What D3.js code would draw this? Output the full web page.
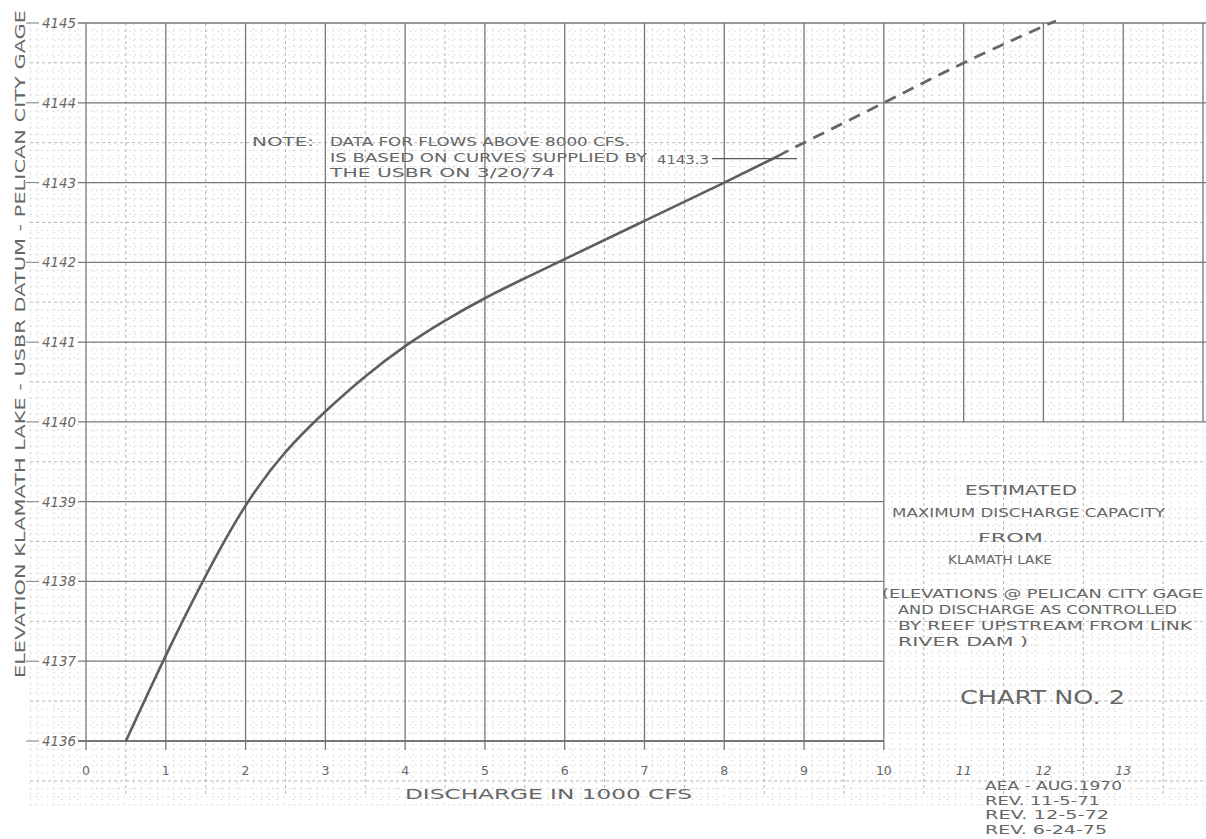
<!DOCTYPE html>
<html>
<head>
<meta charset="utf-8">
<script src="https://cdn.jsdelivr.net/npm/d3@7"></script>
<style>
  html, body { margin: 0; padding: 0; background: #ffffff; }
  svg { display: block; }
  text { font-family: "DejaVu Sans", "Liberation Sans", sans-serif; fill: #666; }
</style>
</head>
<body>
<svg id="chart" width="1206" height="839"></svg>
<script>
// ---------------- data ----------------
const xTickValues = [0, 1, 2, 3, 4, 5, 6, 7, 8, 9, 10, 11, 12, 13];
const yTickValues = [4136, 4137, 4138, 4139, 4140, 4141, 4142, 4143, 4144, 4145];

// measured curve (solid part, data up to ~8000 cfs)
const solidDischarge = [0.5, 1.0, 1.5, 2.0, 2.5, 3.0, 3.5, 4.0, 4.5, 5.0, 5.5, 6.0, 7.0, 8.0, 8.67];
const solidElevation = [4136.0, 4137.07, 4138.07, 4138.95, 4139.62, 4140.13, 4140.57, 4140.95, 4141.27, 4141.55, 4141.8, 4142.04, 4142.52, 4143.0, 4143.33];

// extrapolated curve (dashed part, USBR curves)
const dashedDischarge = [8.67, 9.0, 10.0, 11.0, 12.0, 12.1];
const dashedElevation = [4143.33, 4143.5, 4144.0, 4144.5, 4144.96, 4145.0];

const noteValue = 4143.3;

const yTitle = "ELEVATION   KLAMATH LAKE - USBR DATUM - PELICAN CITY GAGE";
const xTitle = "DISCHARGE IN 1000 CFS";
const noteLines = ["DATA FOR FLOWS ABOVE 8000 CFS.", "IS BASED ON CURVES SUPPLIED BY", "THE USBR  ON 3/20/74"];
const titleLines = ["ESTIMATED", "MAXIMUM DISCHARGE CAPACITY", "FROM", "KLAMATH LAKE"];
const subLines = ["(ELEVATIONS @ PELICAN CITY GAGE", "AND DISCHARGE AS CONTROLLED", "BY REEF UPSTREAM FROM LINK", "RIVER DAM )"];
const revLines = ["AEA - AUG.1970", "REV. 11-5-71", "REV. 12-5-72", "REV. 6-24-75"];

// ---------------- drawing ----------------
const svg = d3.select("#chart");
const x = d3.scaleLinear().domain([0, 14]).range([86, 1203]);
const y = d3.scaleLinear().domain([4136, 4145]).range([741, 23]);

const grid = svg.append("g");

// minor grid (0.1 units) - faint dotted
const minorX = d3.range(-7, 141).map(v => v / 10);
const minorY = d3.range(41352, 41451).map(v => v / 10);
grid.selectAll(".mx").data(minorX.filter(v => Math.round(v * 10) % 5 !== 0)).join("line")
  .attr("x1", d => x(d)).attr("x2", d => x(d))
  .attr("y1", y(4145)).attr("y2", y(4135.2))
  .attr("stroke", "#c8c8c8").attr("stroke-width", 0.8).attr("stroke-dasharray", "1.5,4");
grid.selectAll(".my").data(minorY.filter(v => Math.round(v * 10) % 5 !== 0)).join("line")
  .attr("x1", x(-0.7)).attr("x2", x(14.05))
  .attr("y1", d => y(d)).attr("y2", d => y(d))
  .attr("stroke", "#c8c8c8").attr("stroke-width", 0.8).attr("stroke-dasharray", "1.5,4");

// half-unit lines - dashed, a bit darker
const halfX = d3.range(0, 14).map(v => v + 0.5);
const halfY = d3.range(4135, 4145).map(v => v + 0.5);
grid.selectAll(".hx").data(halfX).join("line")
  .attr("x1", d => x(d)).attr("x2", d => x(d))
  .attr("y1", y(4145)).attr("y2", y(4135.3))
  .attr("stroke", "#aaa").attr("stroke-width", 0.9).attr("stroke-dasharray", "3,3");
grid.selectAll(".hy").data(halfY).join("line")
  .attr("x1", x(-0.7)).attr("x2", x(14.05))
  .attr("y1", d => y(d)).attr("y2", d => y(d))
  .attr("stroke", "#aaa").attr("stroke-width", 0.9).attr("stroke-dasharray", "3,3");

// major vertical lines
const majorX = d3.range(0, 15);
grid.selectAll(".vx").data(majorX).join("line")
  .attr("x1", d => x(d)).attr("x2", d => x(d))
  .attr("y1", y(4145))
  .attr("y2", d => d <= 10 ? y(4136) + 9 : y(4140))
  .attr("stroke", "#777").attr("stroke-width", 1.3);

// major horizontal lines
grid.selectAll(".hl").data(yTickValues).join("line")
  .attr("x1", x(-0.1)).attr("x2", d => d >= 4140 ? 1206 : x(10))
  .attr("y1", d => y(d)).attr("y2", d => y(d))
  .attr("stroke", "#777").attr("stroke-width", d => d === 4136 ? 1.8 : 1.3);
// left stubs before the labels
grid.selectAll(".hs").data(yTickValues).join("line")
  .attr("x1", 26).attr("x2", 39)
  .attr("y1", d => y(d)).attr("y2", d => y(d))
  .attr("stroke", "#888").attr("stroke-width", 1.1);

// y tick labels
svg.append("g").selectAll("text").data(yTickValues).join("text")
  .attr("x", 76).attr("y", d => y(d) + 5)
  .attr("text-anchor", "end")
  .attr("font-size", 13.5).attr("font-style", "italic")
  .attr("textLength", 34).attr("lengthAdjust", "spacingAndGlyphs")
  .text(d => d);

// x tick labels
svg.append("g").selectAll("text").data(xTickValues).join("text")
  .attr("x", d => x(d)).attr("y", 775)
  .attr("text-anchor", "middle")
  .attr("font-size", 12.5)
  .attr("font-style", d => d >= 11 ? "italic" : "normal")
  .text(d => d);

// axis titles
svg.append("text")
  .attr("transform", "translate(25,678) rotate(-90)")
  .attr("font-size", 13.5)
  .attr("textLength", 668).attr("lengthAdjust", "spacingAndGlyphs")
  .text(yTitle);

svg.append("text")
  .attr("x", 405).attr("y", 799)
  .attr("font-size", 14)
  .attr("textLength", 287).attr("lengthAdjust", "spacingAndGlyphs")
  .text(xTitle);

// curve
const line = d3.line().x(d => x(d[0])).y(d => y(d[1])).curve(d3.curveNatural);
svg.append("path")
  .datum(d3.zip(solidDischarge, solidElevation))
  .attr("d", line)
  .attr("fill", "none").attr("stroke", "#5e5e5e").attr("stroke-width", 2.6)
  .attr("stroke-linecap", "round");
svg.append("path")
  .datum(d3.zip(dashedDischarge, dashedElevation))
  .attr("d", line)
  .attr("fill", "none").attr("stroke", "#666").attr("stroke-width", 2.8)
  .attr("stroke-dasharray", "12,8");

// note
svg.append("text").attr("x", 252).attr("y", 146).attr("font-size", 12)
  .attr("textLength", 62).attr("lengthAdjust", "spacingAndGlyphs").text("NOTE:");
const noteLen = [300, 317, 225];
svg.append("g").selectAll("text").data(noteLines).join("text")
  .attr("x", 330).attr("y", (d, i) => 146 + i * 15.5)
  .attr("font-size", 12)
  .attr("textLength", (d, i) => noteLen[i]).attr("lengthAdjust", "spacingAndGlyphs")
  .text(d => d);

// 4143.3 leader
svg.append("line")
  .attr("x1", 712).attr("x2", 797)
  .attr("y1", y(noteValue)).attr("y2", y(noteValue))
  .attr("stroke", "#555").attr("stroke-width", 1.3);
svg.append("text")
  .attr("x", 709).attr("y", y(noteValue) + 5)
  .attr("text-anchor", "end").attr("font-size", 13)
  .attr("textLength", 52).attr("lengthAdjust", "spacingAndGlyphs")
  .text(noteValue.toFixed(1));

// title block
const titleCfg = [
  {x: 965, y: 495, len: 112, fs: 14},
  {x: 892, y: 517, len: 273, fs: 12.5},
  {x: 978, y: 542, len: 65, fs: 12.5},
  {x: 948, y: 564, len: 104, fs: 12.5}
];
svg.append("g").selectAll("text").data(titleLines).join("text")
  .attr("x", (d, i) => titleCfg[i].x).attr("y", (d, i) => titleCfg[i].y)
  .attr("font-size", (d, i) => titleCfg[i].fs)
  .attr("textLength", (d, i) => titleCfg[i].len).attr("lengthAdjust", "spacingAndGlyphs")
  .text(d => d);

const subCfg = [
  {x: 882, len: 321},
  {x: 898, len: 279},
  {x: 898, len: 294},
  {x: 898, len: 130}
];
svg.append("g").selectAll("text").data(subLines).join("text")
  .attr("x", (d, i) => subCfg[i].x).attr("y", (d, i) => 598 + i * 16)
  .attr("font-size", 11.5)
  .attr("textLength", (d, i) => subCfg[i].len).attr("lengthAdjust", "spacingAndGlyphs")
  .text(d => d);

svg.append("text")
  .attr("x", 960).attr("y", 704)
  .attr("font-size", 19)
  .attr("textLength", 165).attr("lengthAdjust", "spacingAndGlyphs")
  .text("CHART NO. 2");

// revision block
const revLen = [137, 115, 124, 122];
svg.append("g").selectAll("text").data(revLines).join("text")
  .attr("x", 985).attr("y", (d, i) => 790 + i * 14.5)
  .attr("font-size", 11.5)
  .attr("textLength", (d, i) => revLen[i]).attr("lengthAdjust", "spacingAndGlyphs")
  .text(d => d);
</script>
</body>
</html>
